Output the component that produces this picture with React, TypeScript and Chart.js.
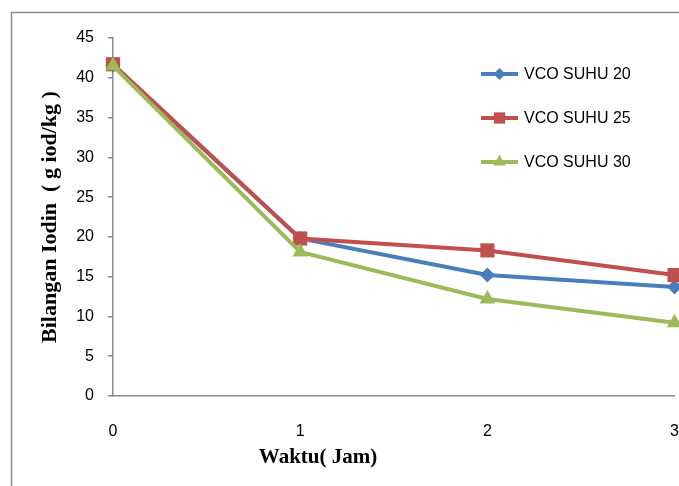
import React, { useEffect, useRef } from "react";
import { Chart, registerables } from "chart.js";

Chart.register(...registerables);

const hours = ["0", "1", "2", "3"];
const suhu20 = [41.6, 19.8, 15.2, 13.7];
const suhu25 = [41.7, 19.8, 18.3, 15.2];
const suhu30 = [41.5, 18.1, 12.2, 9.2];
const seriesNames = ["VCO SUHU 20", "VCO SUHU 25", "VCO SUHU 30"];
const seriesColors = ["#4A7EBB", "#C0504D", "#9BBB59"];
const yTitle = "Bilangan Iodin  ( g iod/kg )";
const xTitle = "Waktu( Jam)";

const TICK_FONT = "'Liberation Sans', Arial, sans-serif";
const TITLE_FONT = "'Liberation Serif', 'Times New Roman', serif";

function drawMarker(ctx: CanvasRenderingContext2D, style: string, x: number, y: number, r: number, color: string) {
  ctx.save();
  ctx.fillStyle = color;
  ctx.beginPath();
  if (style === "rectRot") {
    ctx.moveTo(x - r, y);
    ctx.lineTo(x, y - r);
    ctx.lineTo(x + r, y);
    ctx.lineTo(x, y + r);
  } else if (style === "rect") {
    const s = Math.SQRT1_2 * r;
    ctx.rect(x - s, y - s, 2 * s, 2 * s);
  } else {
    let rad = 0;
    ctx.moveTo(x + Math.sin(rad) * r, y - Math.cos(rad) * r);
    rad += (2 * Math.PI) / 3;
    ctx.lineTo(x + Math.sin(rad) * r, y - Math.cos(rad) * r);
    rad += (2 * Math.PI) / 3;
    ctx.lineTo(x + Math.sin(rad) * r, y - Math.cos(rad) * r);
  }
  ctx.closePath();
  ctx.fill();
  ctx.restore();
}

export default function App() {
  const ref = useRef<HTMLCanvasElement | null>(null);

  useEffect(() => {
    if (!ref.current) return;
    const styles = ["rectRot", "rect", "triangle"];
    const radii = [7.5, 10, 9];

    const decor = {
      id: "decor",
      beforeDraw(chart: any) {
        const ctx = chart.ctx;
        ctx.save();
        ctx.fillStyle = "#ffffff";
        ctx.fillRect(0, 0, chart.width, chart.height);
        ctx.strokeStyle = "#8a8a8a";
        ctx.lineWidth = 1.5;
        ctx.strokeRect(11.5, 12.5, 800, 600);
        ctx.restore();
      },
      afterDraw(chart: any) {
        const ctx = chart.ctx;
        ctx.save();
        // x title
        ctx.fillStyle = "#000";
        ctx.font = `bold 21px ${TITLE_FONT}`;
        ctx.textAlign = "center";
        ctx.textBaseline = "middle";
        ctx.fillText(xTitle, 318, 458);
        // legend
        const ys = [74, 118, 162];
        for (let i = 0; i < 3; i++) {
          ctx.strokeStyle = seriesColors[i];
          ctx.lineWidth = 4;
          ctx.beginPath();
          ctx.moveTo(481, ys[i]);
          ctx.lineTo(518, ys[i]);
          ctx.stroke();
          drawMarker(ctx, styles[i], 499.5, ys[i], radii[i] * 0.8, seriesColors[i]);
          ctx.fillStyle = "#000";
          ctx.font = `16px ${TICK_FONT}`;
          ctx.textAlign = "left";
          ctx.textBaseline = "middle";
          ctx.fillText(seriesNames[i], 524, ys[i] + 1);
        }
        ctx.restore();
      },
    };

    const mk = (i: number, data: number[]) => ({
      label: seriesNames[i],
      data,
      order: 3 - i,
      borderColor: seriesColors[i],
      backgroundColor: seriesColors[i],
      borderWidth: 4,
      pointStyle: styles[i],
      pointRadius: radii[i],
      pointHoverRadius: radii[i],
      pointBorderWidth: 0,
      pointBackgroundColor: seriesColors[i],
      tension: 0,
      clip: false as any,
    });

    const chart = new Chart(ref.current, {
      type: "line",
      data: {
        labels: hours,
        datasets: [mk(0, suhu20), mk(1, suhu25), mk(2, suhu30)],
      },
      options: {
        responsive: false,
        animation: false,
        devicePixelRatio: 1,
        layout: { autoPadding: false, padding: { left: 0, top: 38, right: 4, bottom: 0 } },
        plugins: {
          legend: { display: false },
          tooltip: { enabled: false },
        },
        scales: {
          x: {
            type: "category",
            offset: false,
            grid: {
              display: true,
              drawOnChartArea: false,
              drawTicks: true,
              tickLength: 26,
              tickColor: "rgba(0,0,0,0)",
              color: "#8a8a8a",
            },
            border: { display: true, color: "#8a8a8a", width: 1.5 },
            ticks: {
              color: "#000",
              padding: 0,
              font: { family: TICK_FONT, size: 16 },
              maxRotation: 0,
            },
            afterFit(scale: any) {
              scale.height = 90;
            },
          },
          y: {
            min: 0,
            max: 45,
            ticks: {
              stepSize: 5,
              color: "#000",
              padding: 14,
              font: { family: TICK_FONT, size: 16 },
            },
            grid: { drawOnChartArea: false, drawTicks: true, tickLength: 5, color: "#8a8a8a", lineWidth: 1.5 },
            border: { display: true, color: "#8a8a8a", width: 1.5 },
            title: {
              display: true,
              text: yTitle,
              color: "#000",
              font: { family: TITLE_FONT, size: 22, weight: "bold" },
              padding: { top: 37, bottom: 0 },
            },
            afterFit(scale: any) {
              scale.width = 113;
            },
          },
        },
      },
      plugins: [decor],
    });
    return () => chart.destroy();
  }, []);

  return (
    <div style={{ position: "absolute", left: 0, top: 0, width: 679, height: 486 }}>
      <canvas ref={ref} width={679} height={486} style={{ display: "block" }} />
    </div>
  );
}
